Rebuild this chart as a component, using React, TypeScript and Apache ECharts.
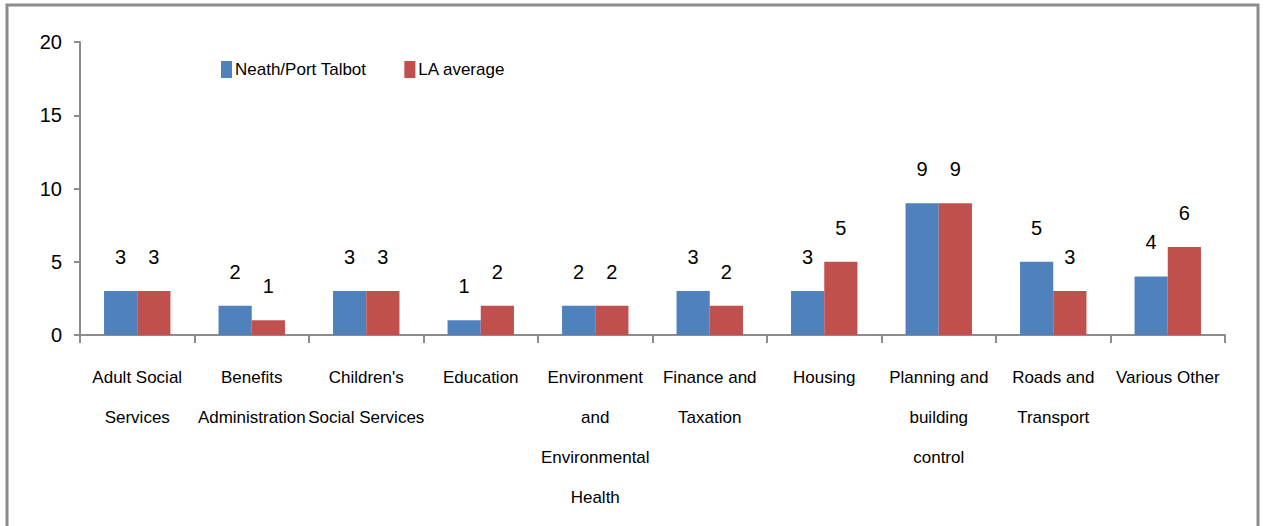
import React, { useEffect, useRef } from "react";
import * as echarts from "echarts";

const categories = [
  "Adult Social\nServices",
  "Benefits\nAdministration",
  "Children's\nSocial Services",
  "Education",
  "Environment\nand\nEnvironmental\nHealth",
  "Finance and\nTaxation",
  "Housing",
  "Planning and\nbuilding\ncontrol",
  "Roads and\nTransport",
  "Various Other",
];
const neathPortTalbot = [3, 2, 3, 1, 2, 3, 3, 9, 5, 4];
const laAverage = [3, 1, 3, 2, 2, 2, 5, 9, 3, 6];
const yTicks = [0, 5, 10, 15, 20];

const FONT = "'Liberation Sans Narrow', 'Liberation Sans', Arial, sans-serif";

export default function App() {
  const ref = useRef<HTMLDivElement>(null);
  useEffect(() => {
    if (!ref.current) return;
    const chart = echarts.init(ref.current, undefined, { renderer: "svg" });
    const labelStyle = {
      show: true,
      position: "top" as const,
      distance: 24,
      fontSize: 20,
      color: "#000",
      fontFamily: FONT,
    };
    chart.setOption({
      animation: false,
      backgroundColor: "#fff",
      textStyle: { fontFamily: FONT },
      graphic: [
        {
          type: "rect",
          shape: { x: 7, y: 5, width: 1251, height: 530 },
          style: { fill: "none", stroke: "#8c8c8c", lineWidth: 3 },
          silent: true,
        },
      ],
      legend: {
        left: 216,
        top: 56,
        itemWidth: 11,
        itemHeight: 17,
        itemGap: 38,
        icon: "rect",
        textStyle: { fontSize: 17, color: "#000", fontFamily: FONT, padding: [0, 0, 0, -2] },
        data: ["Neath/Port Talbot", "LA average"],
      },
      grid: { left: 80, right: 40, top: 42, bottom: 191, containLabel: false },
      xAxis: {
        type: "category",
        data: categories,
        axisLine: { lineStyle: { color: "#8c8c8c", width: 2 } },
        axisTick: { show: true, length: 8, lineStyle: { color: "#8c8c8c", width: 2 } },
        axisLabel: {
          interval: 0,
          fontSize: 17,
          lineHeight: 40,
          color: "#000",
          fontFamily: FONT,
          margin: 22,
        },
      },
      yAxis: {
        type: "value",
        min: yTicks[0],
        max: yTicks[yTicks.length - 1],
        interval: 5,
        splitLine: { show: false },
        axisLine: { show: true, lineStyle: { color: "#8c8c8c", width: 2 } },
        axisTick: { show: true, length: 6, lineStyle: { color: "#8c8c8c", width: 2 } },
        axisLabel: { fontSize: 20, color: "#000", fontFamily: FONT, margin: 18 },
      },
      series: [
        {
          name: "Neath/Port Talbot",
          type: "bar",
          data: neathPortTalbot,
          barGap: "0%",
          barCategoryGap: "42%",
          itemStyle: { color: "#4F81BD" },
          label: labelStyle,
        },
        {
          name: "LA average",
          type: "bar",
          data: laAverage,
          itemStyle: { color: "#C0504D" },
          label: labelStyle,
        },
      ],
    });
    return () => chart.dispose();
  }, []);
  return (
    <div
      ref={ref}
      style={{ position: "fixed", left: 0, top: 0, width: 1265, height: 526 }}
    />
  );
}
